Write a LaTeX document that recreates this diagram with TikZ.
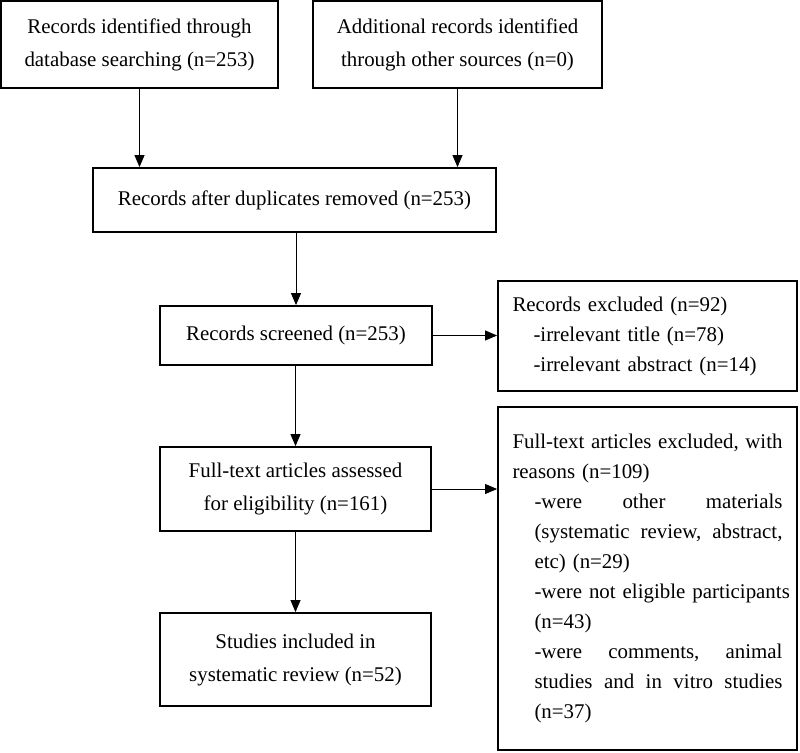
\documentclass[tikz,border=0pt]{standalone}
\usepackage{fontspec}
\setmainfont{Liberation Serif}
\usetikzlibrary{arrows.meta}
\begin{document}
\begin{tikzpicture}[x=1pt,y=-1pt]
\useasboundingbox (0,0) rectangle (800,752);
\tikzset{
  box/.style={draw, line width=1.8pt, inner sep=0pt, align=center, font=\fontsize{20.9}{33}\selectfont},
  side/.style={draw, line width=1.8pt, inner sep=0pt, text width=270pt, align=left, font=\fontsize{20.9}{30}\selectfont},
  arr/.style={line width=0.9pt, -{Triangle[length=12pt,width=10pt]}}
}
\node[box, minimum width=277pt, minimum height=87pt] (b1) at (139.5,44.5) {Records identified through\\database searching (n=253)};
\node[box, minimum width=289pt, minimum height=87pt] (b2) at (457.5,44.5) {Additional records identified\\through other sources (n=0)};
\node[box, minimum width=403pt, minimum height=64pt] (b3) at (294.5,200) {Records after duplicates removed (n=253)};
\node[box, minimum width=272pt, minimum height=59pt] (b4) at (296,335.5) {Records screened (n=253)};
\node[side, minimum width=299pt, minimum height=110pt] (e1) at (647.5,336) {Records excluded (n=92)\\
\hspace*{21pt}-irrelevant title (n=78)\\
\hspace*{21pt}-irrelevant abstract (n=14)};
\node[box, minimum width=271pt, minimum height=84pt] (b5) at (295.5,489) {Full-text articles assessed\\for eligibility (n=161)};
\node[side, minimum width=299pt, minimum height=343pt] (e2) at (647.5,578.5) {\makebox[270pt]{Full-text\hfill articles\hfill excluded,\hfill with}\\
reasons (n=109)\\
\hspace*{22pt}\makebox[248pt]{-were\hfill other\hfill materials}\\
\hspace*{22pt}\makebox[248pt]{(systematic\hfill review,\hfill abstract,}\\
\hspace*{22pt}etc) (n=29)\\
\hspace*{22pt}\mbox{-were not eligible participants}\\
\hspace*{22pt}(n=43)\\
\hspace*{22pt}\makebox[248pt]{-were\hfill comments,\hfill animal}\\
\hspace*{22pt}\makebox[248pt]{studies\hfill and\hfill in\hfill vitro\hfill studies}\\
\hspace*{22pt}(n=37)};
\node[box, minimum width=271pt, minimum height=93pt] (b6) at (295.5,659.5) {Studies included in\\systematic review (n=52)};
\draw[arr] (b1.south) -- (b1.south |- b3.north);
\draw[arr] (b2.south) -- (b2.south |- b3.north);
\draw[arr] (b3.south -| b4.north) -- (b4.north);
\draw[arr] (b4.east) -- (b4.east -| e1.west);
\draw[arr] (b4.south -| b5.north) -- (b5.north);
\draw[arr] (b5.east) -- (b5.east -| e2.west);
\draw[arr] (b5.south) -- (b6.north);
\end{tikzpicture}
\end{document}
